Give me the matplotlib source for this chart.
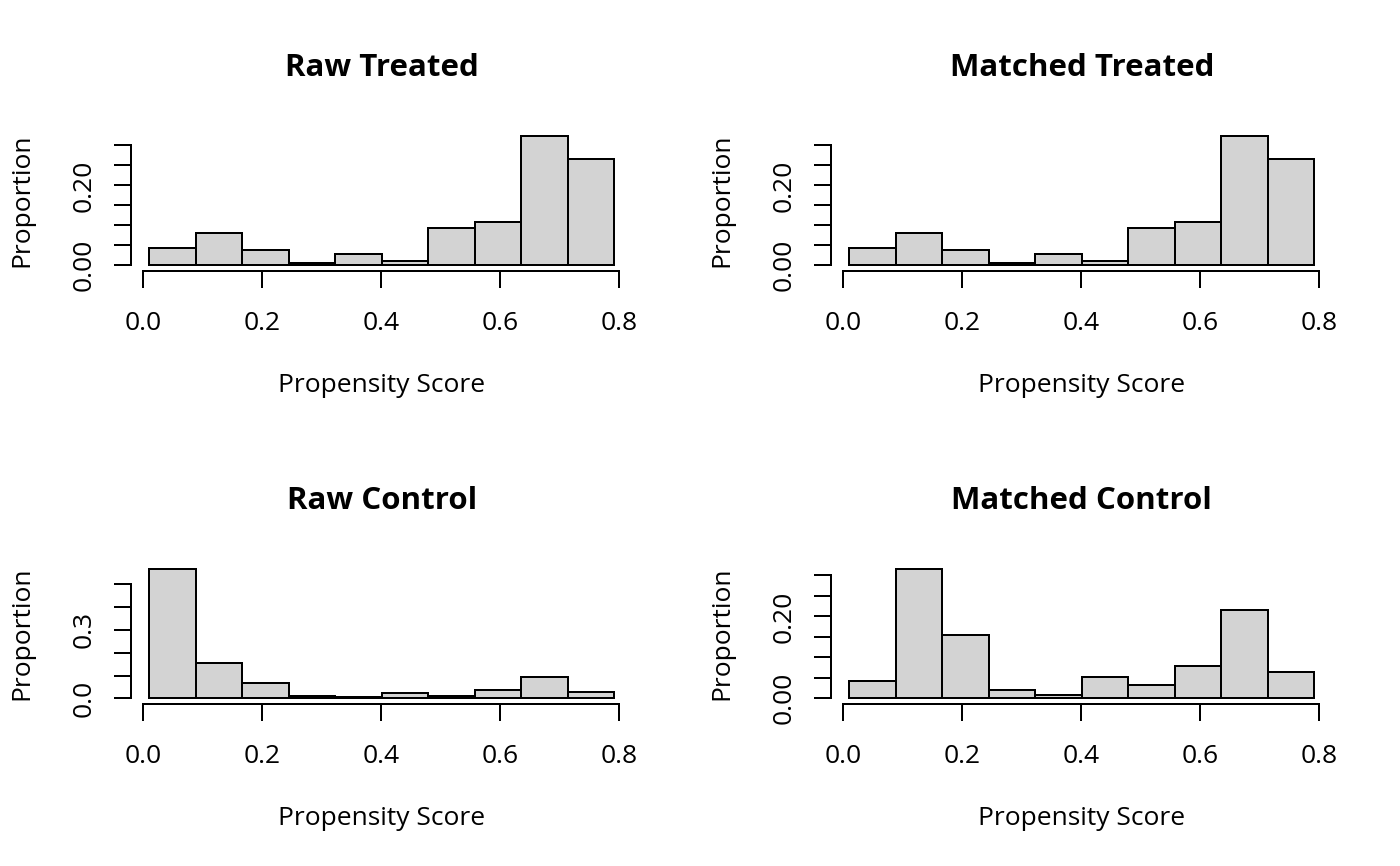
import matplotlib
matplotlib.use("Agg")
import matplotlib.pyplot as plt
import numpy as np

plt.rcParams['font.family'] = ['Open Sans', 'DejaVu Sans']

# histogram breaks (same for all four panels)
breaks = [0.0104, 0.0885, 0.1666, 0.2448, 0.3229, 0.4010, 0.4791, 0.5572, 0.6354, 0.7135, 0.7916]

raw_treated = [0.044, 0.081, 0.0375, 0.005, 0.0275, 0.011, 0.0925, 0.109, 0.324, 0.265]
matched_treated = [0.044, 0.081, 0.0375, 0.005, 0.0275, 0.011, 0.0925, 0.109, 0.324, 0.265]
raw_control = [0.568, 0.154, 0.066, 0.009, 0.0045, 0.022, 0.012, 0.035, 0.092, 0.026]
matched_control = [0.042, 0.316, 0.155, 0.021, 0.009, 0.053, 0.032, 0.080, 0.215, 0.064]

titles = ["Raw Treated", "Matched Treated", "Raw Control", "Matched Control"]

xticks = [0.0, 0.2, 0.4, 0.6, 0.8]
xtick_labels = ["0.0", "0.2", "0.4", "0.6", "0.8"]
yticks_small = [0.0, 0.05, 0.10, 0.15, 0.20, 0.25, 0.30]
ytick_labels_small = ["0.00", "", "", "", "0.20", "", ""]
yticks_big = [0.0, 0.1, 0.2, 0.3, 0.4, 0.5]
ytick_labels_big = ["0.0", "", "", "0.3", "", ""]

W, H = 1400, 866
fig = plt.figure(figsize=(W / 100, H / 100), dpi=100)

LW = 1.44          # ~2 px
FS = 19.0          # axis text, pt
FS_TITLE = 22.5

panels = [
    (0, 0, raw_treated, yticks_small, ytick_labels_small),
    (700, 0, matched_treated, yticks_small, ytick_labels_small),
    (0, 433, raw_control, yticks_big, ytick_labels_big),
    (700, 433, matched_control, yticks_small, ytick_labels_small),
]

for (ox, oy, props, yt, ytl), title in zip(panels, titles):
    left, right = ox + 130.7, ox + 633.1
    top, bottom = oy + 130.7, oy + 270.5
    ax = fig.add_axes([left / W, 1 - bottom / H, (right - left) / W, (bottom - top) / H])

    widths = np.diff(breaks)
    ax.bar(breaks[:-1], props, width=widths, align='edge',
           color='#D3D3D3', edgecolor='black', linewidth=LW)

    # R style 4% axis extension
    xr = breaks[-1] - breaks[0]
    ax.set_xlim(breaks[0] - 0.04 * xr, breaks[-1] + 0.04 * xr)
    ym = max(props)
    ax.set_ylim(-0.04 * ym, ym * 1.04)

    for s in ['top', 'right']:
        ax.spines[s].set_visible(False)
    ax.spines['bottom'].set_bounds(xticks[0], xticks[-1])
    ax.spines['left'].set_bounds(yt[0], yt[-1])
    ax.spines['bottom'].set_linewidth(LW)
    ax.spines['left'].set_linewidth(LW)

    ax.set_xticks(xticks)
    ax.set_xticklabels(xtick_labels, fontsize=FS)
    ax.set_yticks(yt)
    ax.set_yticklabels(ytl, fontsize=FS, rotation=90, va='center')
    ax.tick_params(axis='x', direction='out', length=12, width=LW, pad=16.9)
    ax.tick_params(axis='y', direction='out', length=12, width=LW, pad=12.7)
    ax.patch.set_alpha(0)

    cx = (left + right) / 2 / W
    fig.text(cx, 1 - (oy + 76) / H, title,
             fontsize=FS_TITLE, fontweight='bold', ha='center', va='baseline')
    fig.text(cx, 1 - (oy + 392) / H, "Propensity Score",
             fontsize=FS, ha='center', va='baseline')
    fig.text((ox + 21.7) / W, 1 - ((top + bottom) / 2) / H, "Proportion",
             fontsize=FS, ha='center', va='center', rotation=90)

fig.savefig("out.png", dpi=100)
